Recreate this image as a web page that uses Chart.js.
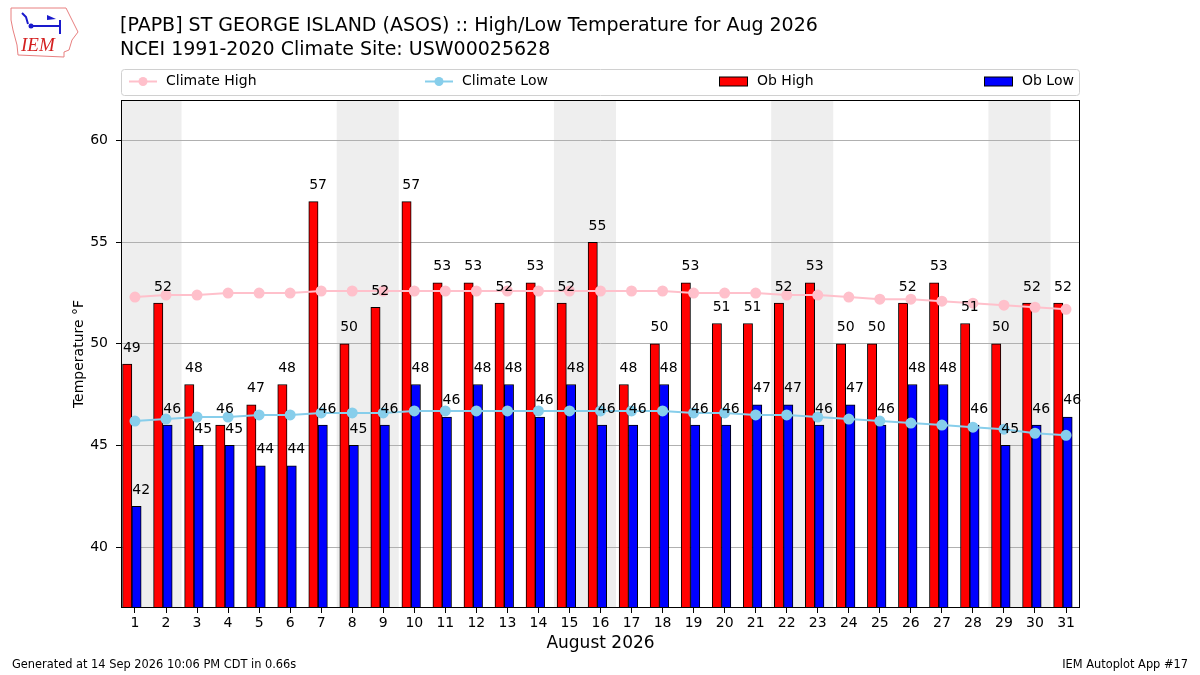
<!DOCTYPE html>
<html>
<head>
<meta charset="utf-8">
<script src="https://cdn.jsdelivr.net/npm/chart.js@4.4.1/dist/chart.umd.min.js"></script>
<style>
  html, body { margin: 0; padding: 0; background: #fff; }
</style>
</head>
<body>
<canvas id="myChart" width="1200" height="675"></canvas>
<script>
// Daily data, August 2026
const days = [
  1, 2, 3, 4, 5, 6, 7, 8, 9, 10, 11, 12, 13, 14, 15, 16,
  17, 18, 19, 20, 21, 22, 23, 24, 25, 26, 27, 28, 29, 30, 31,
];
const obHigh = [
  49, 52, 48, 46, 47, 48, 57, 50, 51.8, 57, 53, 53, 52, 53, 52, 55,
  48, 50, 53, 51, 51, 52, 53, 50, 50, 52, 53, 51, 50, 52, 52,
];
const obLow = [
  42, 46, 45, 45, 44, 44, 46, 45, 46, 48, 46.4, 48, 48, 46.4, 48, 46,
  46, 48, 46, 46, 47, 47, 46, 47, 46, 48, 48, 46, 45, 46, 46.4,
];
const climateHigh = [
  52.3, 52.4, 52.4, 52.5, 52.5, 52.5, 52.6, 52.6, 52.6, 52.6, 52.6, 52.6, 52.6, 52.6, 52.6, 52.6,
  52.6, 52.6, 52.5, 52.5, 52.5, 52.4, 52.4, 52.3, 52.2, 52.2, 52.1, 52.0, 51.9, 51.8, 51.7,
];
const climateLow = [
  46.2, 46.3, 46.4, 46.4, 46.5, 46.5, 46.6, 46.6, 46.6, 46.7, 46.7, 46.7, 46.7, 46.7, 46.7, 46.7,
  46.7, 46.7, 46.6, 46.6, 46.5, 46.5, 46.4, 46.3, 46.2, 46.1, 46.0, 45.9, 45.8, 45.6, 45.5,
];
const yTicks = [40, 45, 50, 55, 60];
const weekendStarts = [1, 8, 15, 22, 29];

const titleLines = [
  "[PAPB] ST GEORGE ISLAND (ASOS) :: High/Low Temperature for Aug 2026",
  "NCEI 1991-2020 Climate Site: USW00025628",
];
const footerLeft = "Generated at 14 Sep 2026 10:06 PM CDT in 0.66s";
const footerRight = "IEM Autoplot App #17";

const FONT = "DejaVu Sans";

// background, weekend shading, titles, logo, footer
const decorPlugin = {
  id: "decor",
  beforeDraw(chart) {
    const { ctx, chartArea: a, scales } = chart;
    ctx.save();
    ctx.fillStyle = "#fff";
    ctx.fillRect(0, 0, chart.width, chart.height);

    ctx.fillStyle = "#eeeeee";
    weekendStarts.forEach((d) => {
      const x0 = Math.max(a.left, scales.x.getPixelForValue(d - 0.5));
      const x1 = Math.min(a.right, scales.x.getPixelForValue(d + 1.5));
      ctx.fillRect(x0, a.top, x1 - x0, a.bottom - a.top);
    });

    ctx.fillStyle = "#000";
    ctx.font = "19px " + FONT;
    ctx.textBaseline = "alphabetic";
    ctx.textAlign = "left";
    ctx.fillText(titleLines[0], 120, 31);
    ctx.fillText(titleLines[1], 120, 55);

    ctx.font = "11.4px " + FONT;
    ctx.textBaseline = "middle";
    ctx.fillText(footerLeft, 12, 665);
    ctx.textAlign = "right";
    ctx.fillText(footerRight, 1188, 665);

    // rough IEM logo
    ctx.strokeStyle = "#e88080";
    ctx.lineWidth = 1;
    ctx.beginPath();
    ctx.moveTo(11, 8);
    ctx.lineTo(66, 8);
    ctx.lineTo(70, 16);
    ctx.lineTo(74, 24);
    ctx.lineTo(78, 32);
    ctx.lineTo(72, 40);
    ctx.lineTo(69, 50);
    ctx.lineTo(64, 52);
    ctx.lineTo(64, 57);
    ctx.lineTo(18, 55);
    ctx.lineTo(17, 45);
    ctx.lineTo(13, 30);
    ctx.lineTo(11, 20);
    ctx.closePath();
    ctx.stroke();
    ctx.strokeStyle = "#1a1acc";
    ctx.fillStyle = "#1a1acc";
    ctx.lineWidth = 2;
    ctx.beginPath();
    ctx.moveTo(31, 26);
    ctx.lineTo(60, 26);
    ctx.moveTo(60, 20);
    ctx.lineTo(60, 34);
    ctx.moveTo(22, 13);
    ctx.lineTo(26, 17);
    ctx.lineTo(28, 24);
    ctx.stroke();
    ctx.beginPath();
    ctx.arc(31, 26, 2.5, 0, Math.PI * 2);
    ctx.fill();
    ctx.beginPath();
    ctx.moveTo(47, 15);
    ctx.lineTo(56, 19);
    ctx.lineTo(47, 20);
    ctx.closePath();
    ctx.fill();
    ctx.fillStyle = "#d42020";
    ctx.font = "italic 19px 'Liberation Serif'";
    ctx.textAlign = "left";
    ctx.textBaseline = "alphabetic";
    ctx.fillText("IEM", 21, 51);
    ctx.restore();
  },
};

// frame, bar value labels, legend
const overlayPlugin = {
  id: "overlay",
  afterDatasetsDraw(chart) {
    const { ctx, chartArea: a, scales } = chart;
    ctx.save();
    ctx.strokeStyle = "#000";
    ctx.lineWidth = 1;
    ctx.strokeRect(Math.round(a.left) + 0.5, Math.round(a.top) + 0.5,
      Math.round(a.right - a.left) - 1, Math.round(a.bottom - a.top) - 1);

    ctx.fillStyle = "#000";
    ctx.font = "14px " + FONT;
    ctx.textAlign = "center";
    ctx.textBaseline = "bottom";
    chart.data.datasets.forEach((ds, i) => {
      if (ds.type !== "bar") return;
      chart.getDatasetMeta(i).data.forEach((bar, j) => {
        const v = ds.data[j].y;
        const y = scales.y.getPixelForValue(v + 0.45);
        ctx.fillText(String(Math.round(v)), bar.x + bar.width / 2, y);
      });
    });

    // legend in expanded matplotlib style
    const lx = a.left, ly = 69, lw = a.right - a.left, lh = 26;
    ctx.fillStyle = "#fff";
    ctx.strokeStyle = "#d0d0d0";
    ctx.beginPath();
    ctx.roundRect(lx + 0.5, ly + 0.5, lw - 1, lh, 3);
    ctx.fill();
    ctx.stroke();
    const slots = [8, 304, 599, 864];
    const cy = ly + 12.5;
    ctx.font = "14px " + FONT;
    ctx.textAlign = "left";
    ctx.textBaseline = "middle";
    chart.data.datasets.forEach((ds, i) => {
      const x = lx + slots[i];
      if (ds.type === "line") {
        ctx.strokeStyle = ds.borderColor;
        ctx.lineWidth = 2;
        ctx.beginPath();
        ctx.moveTo(x, cy);
        ctx.lineTo(x + 28, cy);
        ctx.stroke();
        ctx.fillStyle = ds.pointBackgroundColor;
        ctx.beginPath();
        ctx.arc(x + 14, cy, 4.5, 0, Math.PI * 2);
        ctx.fill();
      } else {
        ctx.fillStyle = ds.backgroundColor;
        ctx.fillRect(x - 1, cy - 4.5, 28, 9);
        ctx.strokeStyle = "#000";
        ctx.lineWidth = 1;
        ctx.strokeRect(x - 0.5, cy - 4.5, 28, 9);
      }
      ctx.fillStyle = "#000";
      ctx.fillText(ds.label, x + (ds.type === "line" ? 37 : 37), cy);
    });
    ctx.restore();
  },
};

const ctx = document.getElementById("myChart");

new Chart(ctx, {
  type: "bar",
  data: {
    datasets: [
      {
        type: "line",
        label: "Climate High",
        data: days.map((d, i) => ({ x: d, y: climateHigh[i] })),
        borderColor: "#ffc0cb",
        pointBackgroundColor: "#ffc0cb",
        pointBorderColor: "#ffc0cb",
        borderWidth: 2,
        pointRadius: 4.5,
        tension: 0,
        order: 0,
      },
      {
        type: "line",
        label: "Climate Low",
        data: days.map((d, i) => ({ x: d, y: climateLow[i] })),
        borderColor: "#87ceeb",
        pointBackgroundColor: "#87ceeb",
        pointBorderColor: "#87ceeb",
        borderWidth: 2,
        pointRadius: 4.5,
        tension: 0,
        order: 0,
      },
      {
        type: "bar",
        label: "Ob High",
        data: days.map((d, i) => ({ x: d - 0.25, y: obHigh[i] })),
        backgroundColor: "#ff0000",
        borderColor: "#000",
        borderWidth: 1,
        borderSkipped: false,
        order: 1,
      },
      {
        type: "bar",
        label: "Ob Low",
        data: days.map((d, i) => ({ x: d + 0.05, y: obLow[i] })),
        backgroundColor: "#0000ff",
        borderColor: "#000",
        borderWidth: 1,
        borderSkipped: false,
        order: 1,
      },
    ],
  },
  options: {
    responsive: false,
    animation: false,
    devicePixelRatio: 1,
    layout: {
      padding: { top: 100, right: 120, left: 0, bottom: 0 },
    },
    datasets: {
      bar: {
        grouped: false,
        categoryPercentage: 1,
        barPercentage: 1,
      },
    },
    plugins: {
      legend: { display: false },
      title: { display: false },
      tooltip: { enabled: false },
    },
    scales: {
      x: {
        type: "linear",
        min: 0.55,
        max: 31.45,
        offset: false,
        afterFit: (s) => { s.height = 67; },
        afterBuildTicks: (s) => { s.ticks = days.map((d) => ({ value: d })); },
        grid: {
          drawOnChartArea: false,
          tickColor: "#000",
          tickLength: 5,
          offset: false,
        },
        border: { display: false },
        ticks: {
          color: "#000",
          font: { family: FONT, size: 14 },
          padding: 2,
          maxRotation: 0,
          autoSkip: false,
        },
        title: {
          display: true,
          text: "August 2026",
          color: "#000",
          font: { family: FONT, size: 17 },
          padding: { top: 0, bottom: 21 },
        },
      },
      y: {
        min: 37,
        max: 62,
        afterFit: (s) => { s.width = 121; },
        afterBuildTicks: (s) => { s.ticks = yTicks.map((v) => ({ value: v })); },
        grid: {
          color: "#b0b0b0",
          tickColor: "#000",
          tickLength: 5,
        },
        border: { display: false },
        ticks: {
          color: "#000",
          font: { family: FONT, size: 14 },
          padding: 8,
        },
        title: {
          display: true,
          text: "Temperature °F",
          color: "#000",
          font: { family: FONT, size: 14 },
          padding: { top: 71, bottom: 0 },
        },
      },
    },
  },
  plugins: [decorPlugin, overlayPlugin],
});
</script>
</body>
</html>
